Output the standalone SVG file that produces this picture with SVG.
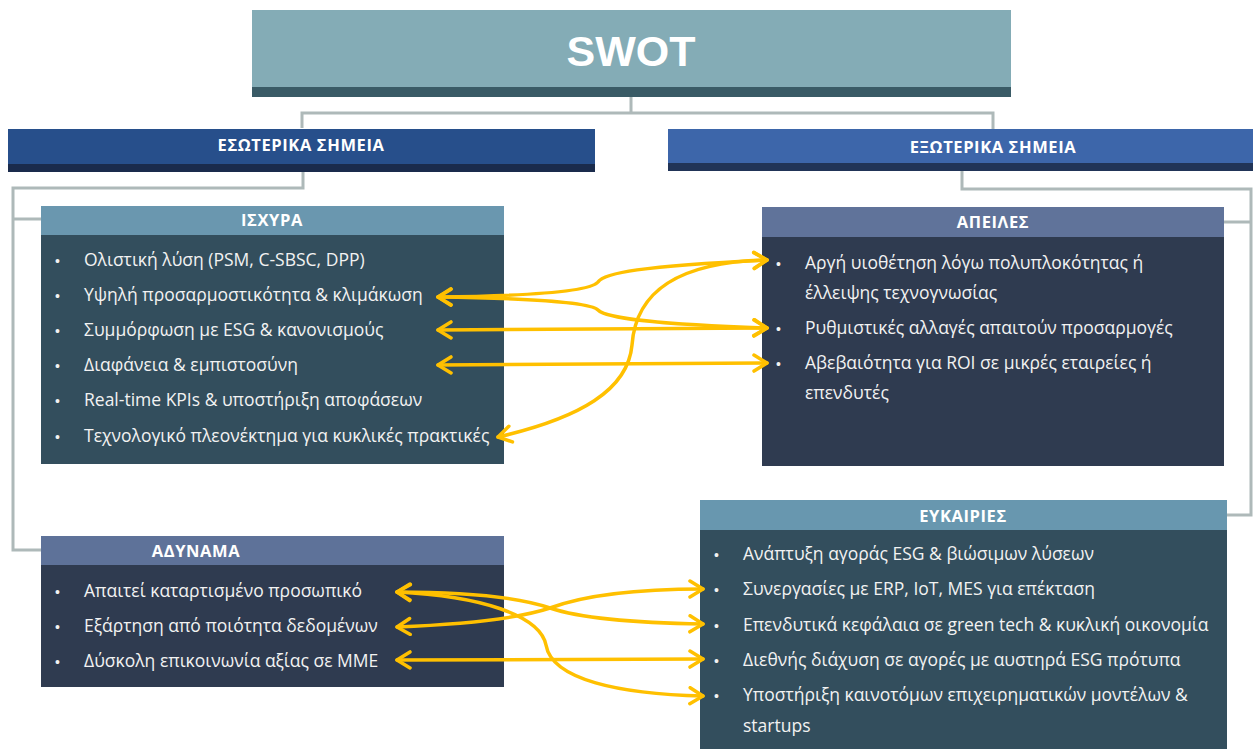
<svg xmlns="http://www.w3.org/2000/svg" width="1253" height="749" viewBox="0 0 1253 749">
<defs>
<style>
.conn{fill:none;stroke:#AEB9B9;stroke-width:3}
.arr{fill:none;stroke:#FFC000;stroke-width:3.5;stroke-linecap:round;marker-start:url(#ah);marker-end:url(#ah)}
.hd{font-family:"Open Sans","Liberation Sans",Arial,sans-serif;font-weight:bold;font-size:16.5px;letter-spacing:0.6px;fill:#FFFFFF;text-anchor:middle}
.it{font-family:"Open Sans","Liberation Sans",Arial,sans-serif;font-size:17.5px;fill:#F2F2F2}
.bl{font-family:"Liberation Sans",Arial,sans-serif;font-size:14px;fill:#F2F2F2}
</style>
<marker id="ah" viewBox="0 0 20 20" markerWidth="20" markerHeight="20" markerUnits="userSpaceOnUse" refX="17" refY="10" orient="auto-start-reverse">
<path d="M4,2 L17,10 L4,18" fill="none" stroke="#FFC000" stroke-width="3.5" stroke-linecap="round" stroke-linejoin="round"/>
</marker>
</defs>
<rect width="1253" height="749" fill="#FFFFFF"/>

<g id="connectors">
<path class="conn" d="M631,97 V113 M302,128 V113 H993 V129"/>
<path class="conn" d="M303,172 V188 H13 V550 H41 M13,219 H41"/>
<path class="conn" d="M962,171 V189 H1251 V515 H1226 M1224,222 H1251"/>
</g>

<g id="swot">
<rect x="252" y="10" width="759" height="87" fill="#84ACB6"/>
<rect x="252" y="87" width="759" height="10" fill="#3A5B66"/>
<text x="631" y="66" font-family="Liberation Sans,Arial,sans-serif" font-weight="bold" font-size="43" fill="#FFFFFF" text-anchor="middle">SWOT</text>
</g>

<g id="internal">
<rect x="8" y="129" width="587" height="43" fill="#274F8B"/>
<rect x="8" y="164" width="587" height="8" fill="#1A2B4C"/>
<text class="hd" x="301" y="151">ΕΣΩΤΕΡΙΚΑ ΣΗΜΕΙΑ</text>
</g>

<g id="external">
<rect x="668" y="129" width="585" height="42" fill="#3D66AA"/>
<rect x="668" y="163" width="585" height="8" fill="#213457"/>
<text class="hd" x="993" y="153">ΕΞΩΤΕΡΙΚΑ ΣΗΜΕΙΑ</text>
</g>

<g id="strengths">
<rect x="41" y="206" width="463" height="29" fill="#6A97AF"/>
<rect x="41" y="235" width="463" height="229" fill="#334E5D"/>
<text class="hd" x="272" y="226">ΙΣΧΥΡΑ</text>
<text class="bl" x="55" y="266">•</text><text class="it" x="84" y="266">Ολιστική λύση (PSM, C-SBSC, DPP)</text>
<text class="bl" x="55" y="301">•</text><text class="it" x="84" y="301">Υψηλή προσαρμοστικότητα &amp; κλιμάκωση</text>
<text class="bl" x="55" y="336">•</text><text class="it" x="84" y="336">Συμμόρφωση με ESG &amp; κανονισμούς</text>
<text class="bl" x="55" y="371">•</text><text class="it" x="84" y="371">Διαφάνεια &amp; εμπιστοσύνη</text>
<text class="bl" x="55" y="406">•</text><text class="it" x="84" y="406">Real-time KPIs &amp; υποστήριξη αποφάσεων</text>
<text class="bl" x="55" y="442">•</text><text class="it" x="84" y="442">Τεχνολογικό πλεονέκτημα για κυκλικές πρακτικές</text>
</g>

<g id="threats">
<rect x="762" y="207" width="462" height="30" fill="#60739A"/>
<rect x="762" y="237" width="462" height="229" fill="#2F3B50"/>
<text class="hd" x="993" y="228">ΑΠΕΙΛΕΣ</text>
<text class="bl" x="776" y="269">•</text><text class="it" x="805" y="269">Αργή υιοθέτηση λόγω πολυπλοκότητας ή</text>
<text class="it" x="805" y="299">έλλειψης τεχνογνωσίας</text>
<text class="bl" x="776" y="334">•</text><text class="it" x="805" y="334">Ρυθμιστικές αλλαγές απαιτούν προσαρμογές</text>
<text class="bl" x="776" y="369">•</text><text class="it" x="805" y="369">Αβεβαιότητα για ROI σε μικρές εταιρείες ή</text>
<text class="it" x="805" y="399">επενδυτές</text>
</g>

<g id="weaknesses">
<rect x="41" y="536" width="463" height="29" fill="#5E7299"/>
<rect x="41" y="565" width="463" height="122" fill="#2F3B50"/>
<text class="hd" x="196" y="557">ΑΔΥΝΑΜΑ</text>
<text class="bl" x="55" y="597">•</text><text class="it" x="84" y="597">Απαιτεί καταρτισμένο προσωπικό</text>
<text class="bl" x="55" y="632">•</text><text class="it" x="84" y="632">Εξάρτηση από ποιότητα δεδομένων</text>
<text class="bl" x="55" y="667">•</text><text class="it" x="84" y="667">Δύσκολη επικοινωνία αξίας σε ΜΜΕ</text>
</g>

<g id="opportunities">
<rect x="700" y="500" width="527" height="30" fill="#6897AF"/>
<rect x="700" y="530" width="527" height="219" fill="#334E5D"/>
<text class="hd" x="963" y="522">ΕΥΚΑΙΡΙΕΣ</text>
<text class="bl" x="714" y="560">•</text><text class="it" x="743" y="560">Ανάπτυξη αγοράς ESG &amp; βιώσιμων λύσεων</text>
<text class="bl" x="714" y="595">•</text><text class="it" x="743" y="595">Συνεργασίες με ERP, IoT, MES για επέκταση</text>
<text class="bl" x="714" y="631">•</text><text class="it" x="743" y="631">Επενδυτικά κεφάλαια σε green tech &amp; κυκλική οικονομία</text>
<text class="bl" x="714" y="666">•</text><text class="it" x="743" y="666">Διεθνής διάχυση σε αγορές με αυστηρά ESG πρότυπα</text>
<text class="bl" x="714" y="701">•</text><text class="it" x="743" y="701">Υποστήριξη καινοτόμων επιχειρηματικών μοντέλων &amp;</text>
<text class="it" x="743" y="732">startups</text>
</g>

<g id="arrows">
<path class="arr" d="M438,297 C520,296 590,292 598,282 C604,273 640,266 767,260"/>
<path class="arr" d="M438,297 C520,298 590,302 598,310 C606,318 650,324 767,328"/>
<path class="arr" d="M438,330 L767,328"/>
<path class="arr" d="M438,365 L767,363"/>
<path class="arr" d="M498,437 C580,418 628,390 632,345 C636,290 680,262 767,260"/>
<path class="arr" d="M397,592 C470,592 520,598 550,608 C580,618 640,623 703,624"/>
<path class="arr" d="M397,627 C470,624 520,618 550,608 C585,595 640,589 703,589"/>
<path class="arr" d="M397,660 L703,659"/>
<path class="arr" d="M397,592 C480,596 540,615 546,645 C552,680 620,694 703,696"/>
</g>
</svg>
